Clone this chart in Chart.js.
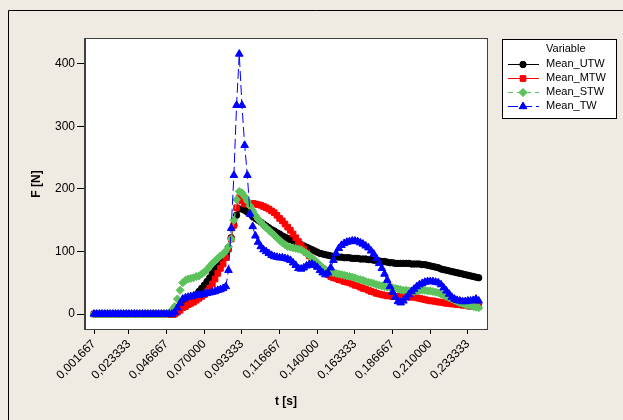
<!DOCTYPE html>
<html>
<head>
<meta charset="utf-8">
<script src="https://cdn.jsdelivr.net/npm/chart.js@4"></script>
<style>
  html, body { margin: 0; padding: 0; background: #EFEBE2; }
  canvas { display: block; }
</style>
</head>
<body>
<canvas id="chart" width="623" height="420"></canvas>
<script>
// sample interval of the measurement (1/600 s), 144 samples
const sampleStep = 1 / 600;

// series values [N] (12 samples per row)
const meanUTW = [
  0, 0, 0, 0, 0, 0, 0, 0, 0, 0, 0, 0,
  0, 0, 0, 0, 0, 0, 0, 0, 0, 0, 0, 0,
  0, 0, 0, 0, 0, 0, 0, 3, 8, 13, 17, 20,
  23, 26, 31, 36, 41, 46, 52, 58, 65, 72, 78, 83,
  88, 96, 106, 122, 142, 158, 168, 168, 166, 163, 160, 156,
  153, 150, 147, 144, 141, 138, 135, 133, 130, 128, 125, 123,
  121, 119, 117, 115, 113, 111, 109, 107, 105, 103, 101, 99,
  97, 96, 95, 94, 93, 92, 92, 91, 91, 90, 90, 90,
  89, 89, 89, 88, 88, 88, 87, 87, 86, 86, 85, 84,
  84, 83, 82, 82, 81, 81, 81, 81, 81, 81, 80, 80,
  80, 80, 79, 79, 78, 77, 76, 75, 74, 72, 71, 70,
  69, 68, 67, 66, 65, 64, 63, 62, 61, 60, 59, 58
];
const meanMTW = [
  0, 0, 0, 0, 0, 0, 0, 0, 0, 0, 0, 0,
  0, 0, 0, 0, 0, 0, 0, 0, 0, 0, 0, 0,
  0, 0, 0, 0, 0, 0, 0, 3, 6, 10, 12, 15,
  17, 19, 22, 25, 28, 31, 35, 41, 48, 56, 65, 73,
  80, 90, 104, 120, 142, 170, 186, 181, 176, 176, 177, 177,
  176, 175, 174, 172, 170, 168, 165, 162, 158, 153, 149, 144,
  139, 134, 128, 122, 116, 110, 104, 98, 93, 88, 83, 78,
  75, 71, 67, 63, 60, 58, 57, 55, 54, 52, 51, 50,
  48, 46, 45, 43, 41, 40, 38, 36, 35, 33, 32, 31,
  30, 29, 29, 28, 28, 28, 28, 28, 28, 27, 27, 27,
  26, 25, 24, 23, 22, 21, 21, 20, 19, 19, 18, 17,
  17, 16, 16, 15, 15, 14, 14, 13, 12, 12, 12, 12
];
const meanSTW = [
  0, 0, 0, 0, 0, 0, 0, 0, 0, 0, 0, 0,
  0, 0, 0, 0, 0, 0, 0, 0, 0, 0, 0, 0,
  0, 0, 0, 0, 2, 6, 12, 24, 38, 50, 54, 56,
  57, 58, 60, 61, 64, 67, 71, 76, 81, 85, 89, 93,
  96, 101, 108, 120, 150, 183, 196, 194, 188, 181, 173, 165,
  158, 152, 147, 142, 138, 134, 130, 126, 122, 118, 114, 111,
  108, 107, 106, 105, 104, 103, 100, 97, 94, 90, 86, 82,
  78, 74, 71, 69, 67, 66, 65, 64, 63, 62, 61, 60,
  59, 58, 56, 55, 54, 52, 51, 50, 49, 47, 46, 45,
  44, 43, 43, 42, 41, 40, 39, 38, 38, 37, 37, 36,
  37, 38, 38, 38, 37, 37, 36, 35, 34, 32, 30, 28,
  26, 24, 22, 20, 18, 17, 15, 14, 13, 12, 11, 10
];
const meanTW = [
  0, 0, 0, 0, 0, 0, 0, 0, 0, 0, 0, 0,
  0, 0, 0, 0, 0, 0, 0, 0, 0, 0, 0, 0,
  0, 0, 0, 0, 0, 0, 3, 10, 17, 24, 26, 27,
  28, 29, 30, 30, 31, 32, 33, 34, 35, 36, 38, 39,
  41, 44, 70, 137, 222, 334, 416, 334, 270, 222, 160, 140,
  125, 115, 108, 103, 100, 97, 94, 92, 91, 90, 90, 89,
  88, 86, 82, 78, 73, 72, 74, 77, 79, 80, 78, 75,
  70, 66, 63, 66, 74, 86, 97, 105, 110, 113, 115, 116,
  117, 117, 116, 114, 112, 109, 106, 101, 96, 89, 81, 73,
  64, 54, 44, 35, 27, 20, 18, 21, 26, 31, 36, 40,
  44, 47, 49, 51, 52, 52, 52, 51, 50, 47, 42, 37,
  32, 27, 24, 22, 21, 20, 20, 21, 21, 22, 24, 21
];

// tick labels
const xTicks = [0.001667, 0.023333, 0.046667, 0.070000, 0.093333, 0.116667,
                0.140000, 0.163333, 0.186667, 0.210000, 0.233333];
const yTicks = [0, 100, 200, 300, 400];

const times = meanUTW.map((v, i) => (i + 1) * sampleStep);
const toPoints = arr => arr.map((v, i) => ({ x: times[i], y: v }));

const tickFont = { family: 'Arial, "Liberation Sans", sans-serif', size: 12 };
const titleFont = { family: 'Arial, "Liberation Sans", sans-serif', size: 12, weight: 'bold' };

const series = [
  { label: 'Mean_UTW', data: meanUTW, color: '#000000', style: 'circle', radius: 3.2, dash: [], order: 3 },
  { label: 'Mean_MTW', data: meanMTW, color: '#FF0000', style: 'rect', radius: 4, dash: [], order: 2 },
  { label: 'Mean_STW', data: meanSTW, color: '#5CC35C', style: 'rectRot', radius: 4, dash: [5, 4], order: 1 },
  { label: 'Mean_TW', data: meanTW, color: '#0000FF', style: 'triangle', radius: 4.4, dash: [10, 4], order: 0 }
];

// plot frame, outer frame line and the boxed legend
const decorations = {
  id: 'decorations',
  beforeDraw(chart) {
    const ctx = chart.ctx;
    ctx.save();
    ctx.fillStyle = '#EFEBE2';
    ctx.fillRect(0, 0, chart.width, chart.height);
    const a = chart.chartArea;
    ctx.fillStyle = '#FFFFFF';
    ctx.fillRect(a.left, a.top, a.right - a.left, a.bottom - a.top);
    ctx.strokeStyle = '#000000';
    ctx.lineWidth = 1;
    ctx.beginPath();
    ctx.moveTo(8.5, 420);
    ctx.lineTo(8.5, 10.5);
    ctx.lineTo(623, 10.5);
    ctx.stroke();
    ctx.restore();
  },
  afterDraw(chart) {
    const ctx = chart.ctx;
    const a = chart.chartArea;
    ctx.save();
    ctx.strokeStyle = '#404040';
    ctx.lineWidth = 1;
    ctx.strokeRect(Math.round(a.left) - 0.5, Math.round(a.top) - 0.5,
                   Math.round(a.right - a.left) + 1, Math.round(a.bottom - a.top) + 1);

    // legend box
    ctx.fillStyle = '#FFFFFF';
    ctx.fillRect(502, 39, 114, 79);
    ctx.strokeStyle = '#000000';
    ctx.strokeRect(502.5, 39.5, 114, 79);
    ctx.fillStyle = '#000000';
    ctx.font = '11px Arial, "Liberation Sans", sans-serif';
    ctx.textBaseline = 'middle';
    ctx.textAlign = 'left';
    ctx.fillText('Variable', 546, 49);
    const rows = [64, 78, 92, 106];
    series.forEach((s, i) => {
      const y = rows[i] + 0.5;
      ctx.strokeStyle = s.color;
      ctx.setLineDash(s.dash);
      ctx.beginPath();
      ctx.moveTo(508, y);
      ctx.lineTo(539, y);
      ctx.stroke();
      ctx.setLineDash([]);
      ctx.fillStyle = s.color;
      Chart.helpers.drawPoint(ctx, { pointStyle: s.style, radius: s.radius, borderWidth: 1 }, 523, y);
      ctx.fill();
      ctx.fillStyle = '#000000';
      ctx.fillText(s.label, 546, rows[i]);
    });
    ctx.restore();
  }
};

new Chart(document.getElementById('chart'), {
  type: 'line',
  data: {
    datasets: series.map(s => ({
      label: s.label,
      data: toPoints(s.data),
      borderColor: s.color,
      backgroundColor: s.color,
      borderWidth: 1,
      borderDash: s.dash,
      pointStyle: s.style,
      pointRadius: s.radius,
      pointBorderWidth: 1,
      pointBackgroundColor: s.color,
      pointBorderColor: s.color,
      tension: 0,
      order: s.order
    }))
  },
  options: {
    responsive: false,
    animation: false,
    layout: { padding: { top: 39, right: 136, left: 0, bottom: 0 } },
    plugins: { legend: { display: false }, tooltip: { enabled: false } },
    scales: {
      x: {
        type: 'linear',
        min: -0.00391,
        max: 0.24516,
        afterBuildTicks: s => { s.ticks = xTicks.map(v => ({ value: v })); },
        afterFit: s => { s.height = 91; },
        ticks: {
          autoSkip: false,
          maxRotation: 45,
          minRotation: 45,
          padding: 3,
          color: '#000',
          font: tickFont,
          callback: v => v.toFixed(6).replace('.', ',')
        },
        grid: { drawOnChartArea: false, tickLength: 5, color: '#000' },
        border: { color: '#404040' },
        title: { display: true, text: 't [s]', color: '#000', font: titleFont, padding: { top: 0, bottom: 11 } }
      },
      y: {
        min: -24,
        max: 440,
        afterBuildTicks: s => { s.ticks = yTicks.map(v => ({ value: v })); },
        afterFit: s => { s.width = 85; },
        ticks: { padding: 2, color: '#000', font: tickFont },
        grid: { drawOnChartArea: false, tickLength: 8, color: '#000' },
        border: { color: '#404040' },
        title: { display: true, text: 'F [N]', color: '#000', font: titleFont, padding: { top: 29, bottom: 0 } }
      }
    }
  },
  plugins: [decorations]
});
</script>
</body>
</html>
